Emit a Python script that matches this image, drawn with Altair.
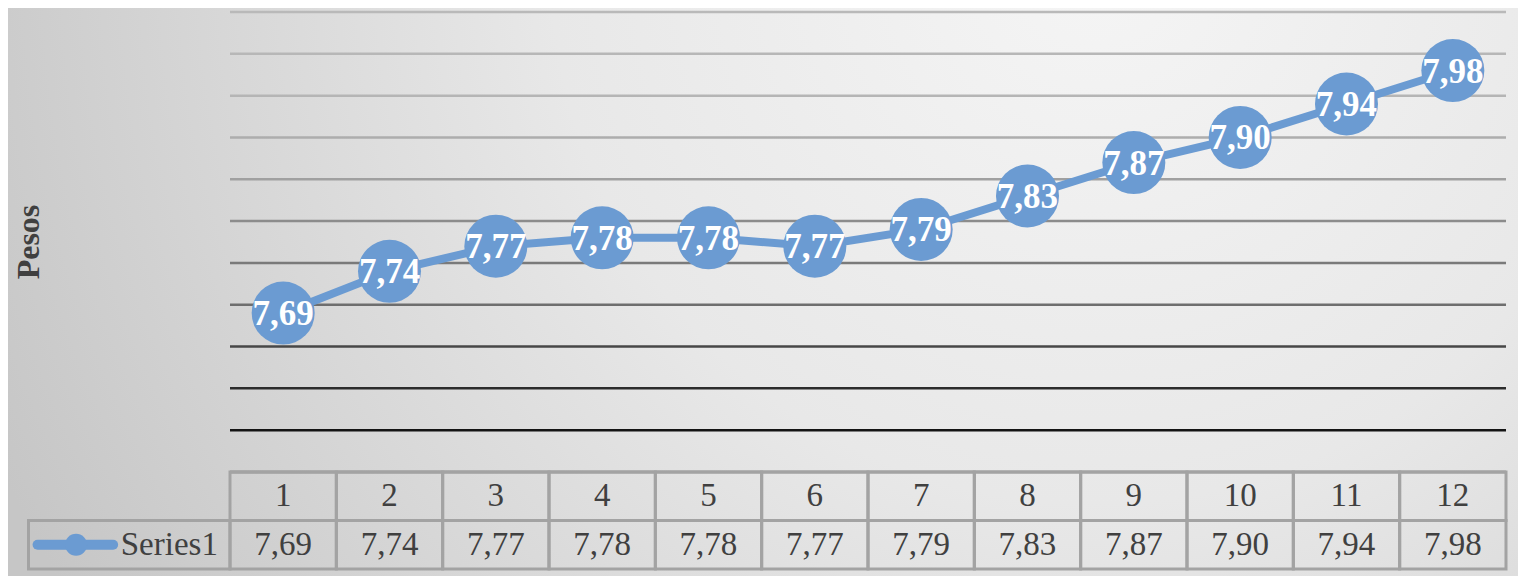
import altair as alt
import pandas as pd

# ---------------- data ----------------
categories = [1, 2, 3, 4, 5, 6, 7, 8, 9, 10, 11, 12]
values = [7.69, 7.74, 7.77, 7.78, 7.78, 7.77, 7.79, 7.83, 7.87, 7.90, 7.94, 7.98]
gridlines = [7.50, 7.55, 7.60, 7.65, 7.70, 7.75, 7.80, 7.85, 7.90, 7.95, 8.00, 8.05]
series_name = "Series1"
y_title = "Pesos"

# ---------------- layout / style ----------------
W, H = 1510, 568
X_DOMAIN = [-1.5878, 12.6129]
Y_DOMAIN = [7.50, 8.05]
Y_RANGE = [464, 4]
T_DOMAIN = [0, 2]
T_RANGE = [464, 561]
LEG_LEFT = -1.395
TITLE_X = -1.39
BLUE = "#6b9bd2"
TEXT = "#404040"
BORDER = "#a3a3a3"
FONT = "Liberation Serif"
GRID_COLORS = ["#555555", "#141414", "#2c2c2c", "#474747", "#6e6e6e", "#7a7a7a",
               "#8c8c8c", "#a0a0a0", "#adadad", "#b5b5b5", "#b7b7b7", "#b9b9b9"]

def fmt(v):
    return f"{v:.2f}".replace(".", ",")

main_df = pd.DataFrame({"cat": categories, "val": values,
                        "lab": [fmt(v) for v in values]})
grid_df = pd.DataFrame({"v": gridlines})

xs = alt.Scale(domain=X_DOMAIN, nice=False, zero=False)
ys = alt.Scale(domain=Y_DOMAIN, range=Y_RANGE, nice=False, zero=False)
ts = alt.Scale(domain=T_DOMAIN, range=T_RANGE, nice=False, zero=False)

gradient = {
    "gradient": "radial",
    "x1": 0.72, "y1": 0.28, "r1": 0.0,
    "x2": 0.72, "y2": 0.28, "r2": 0.80,
    "stops": [
        {"offset": 0.0, "color": "#f5f5f5"},
        {"offset": 0.45, "color": "#e8e8e8"},
        {"offset": 1.0, "color": "#c6c6c6"},
    ],
}

bg = alt.Chart(pd.DataFrame({"a": [0]})).mark_rect(fill=gradient, strokeWidth=0).encode(
    x=alt.value(0), x2=alt.value("width"), y=alt.value(0), y2=alt.value("height")
)

grid = alt.Chart(grid_df).mark_rule(strokeWidth=2.5).encode(
    x=alt.XDatum(0.5, scale=xs, axis=None),
    x2=alt.X2Datum(12.5),
    y=alt.Y("v:Q", scale=ys, axis=None),
    color=alt.Color("v:O", scale=alt.Scale(domain=gridlines, range=GRID_COLORS), legend=None),
)

title = alt.Chart(pd.DataFrame({"t": [y_title]})).mark_text(
    font=FONT, fontSize=32, fontWeight="bold", color=TEXT, angle=270,
    align="center", baseline="middle").encode(
    x=alt.XDatum(TITLE_X, scale=xs, axis=None),
    y=alt.YDatum((Y_DOMAIN[0] + Y_DOMAIN[1]) / 2 + 0.0, scale=ys, axis=None),
    text="t:N",
)

line = alt.Chart(main_df).mark_line(color=BLUE, strokeWidth=8).encode(
    x=alt.X("cat:Q", scale=xs, axis=None),
    y=alt.Y("val:Q", scale=ys, axis=None),
)
points = alt.Chart(main_df).mark_circle(size=3970, color=BLUE, opacity=1).encode(
    x=alt.X("cat:Q", scale=xs, axis=None),
    y=alt.Y("val:Q", scale=ys, axis=None),
)
labels = alt.Chart(main_df).mark_text(font=FONT, fontSize=35, fontWeight="bold",
                                      color="white", baseline="middle", dy=1).encode(
    x=alt.X("cat:Q", scale=xs, axis=None),
    y=alt.Y("val:Q", scale=ys, axis=None),
    text="lab:N",
)

plot = alt.layer(grid, title, line, points, labels)

# ---------------- data table ----------------
cell_rows = []
for c in categories:
    cell_rows.append({"x0": c - 0.5, "x1": c + 0.5, "r0": 0, "r1": 1})
    cell_rows.append({"x0": c - 0.5, "x1": c + 0.5, "r0": 1, "r1": 2})
cell_rows.append({"x0": LEG_LEFT, "x1": 0.5, "r0": 1, "r1": 2})
cells_df = pd.DataFrame(cell_rows)

cells = alt.Chart(cells_df).mark_rect(fillOpacity=0, stroke=BORDER, strokeWidth=3).encode(
    x=alt.X("x0:Q", scale=xs, axis=None), x2="x1:Q",
    y=alt.Y("r0:Q", scale=ts, axis=None), y2="r1:Q",
)

header_df = pd.DataFrame({"cat": categories, "row": [0.5] * len(categories),
                          "lab": [str(c) for c in categories]})
value_df = pd.DataFrame({"cat": categories, "row": [1.5] * len(categories),
                         "lab": [fmt(v) for v in values]})

header_text = alt.Chart(header_df).mark_text(font=FONT, fontSize=33, color=TEXT,
                                             baseline="middle").encode(
    x=alt.X("cat:Q", scale=xs, axis=None),
    y=alt.Y("row:Q", scale=ts, axis=None),
    text="lab:N",
)
value_text = alt.Chart(value_df).mark_text(font=FONT, fontSize=33, color=TEXT,
                                           baseline="middle").encode(
    x=alt.X("cat:Q", scale=xs, axis=None),
    y=alt.Y("row:Q", scale=ts, axis=None),
    text="lab:N",
)

leg_w = 0.5 - LEG_LEFT
one = pd.DataFrame({"a": [0]})
leg_line = alt.Chart(one).mark_rule(color=BLUE, strokeWidth=10, strokeCap="round").encode(
    x=alt.XDatum(LEG_LEFT + 0.045 * leg_w, scale=xs, axis=None),
    x2=alt.X2Datum(LEG_LEFT + 0.42 * leg_w),
    y=alt.YDatum(1.5, scale=ts, axis=None),
)
leg_dot = alt.Chart(one).mark_circle(color=BLUE, size=484, opacity=1).encode(
    x=alt.XDatum(LEG_LEFT + 0.236 * leg_w, scale=xs, axis=None),
    y=alt.YDatum(1.5, scale=ts, axis=None),
)
leg_text = alt.Chart(pd.DataFrame({"s": [series_name]})).mark_text(
    font=FONT, fontSize=33, color=TEXT, align="right", baseline="middle").encode(
    x=alt.XDatum(LEG_LEFT + 0.94 * leg_w, scale=xs, axis=None),
    y=alt.YDatum(1.5, scale=ts, axis=None),
    text="s:N",
)

table = alt.layer(cells, header_text, value_text, leg_line, leg_dot, leg_text)

chart = alt.layer(bg, plot, table).resolve_scale(y="independent").properties(
    width=W, height=H, padding=0, autosize="none", background="#d0d0d0"
).configure_view(stroke=None)

chart.save("out.html", embed_options={"renderer": "svg", "actions": False})
